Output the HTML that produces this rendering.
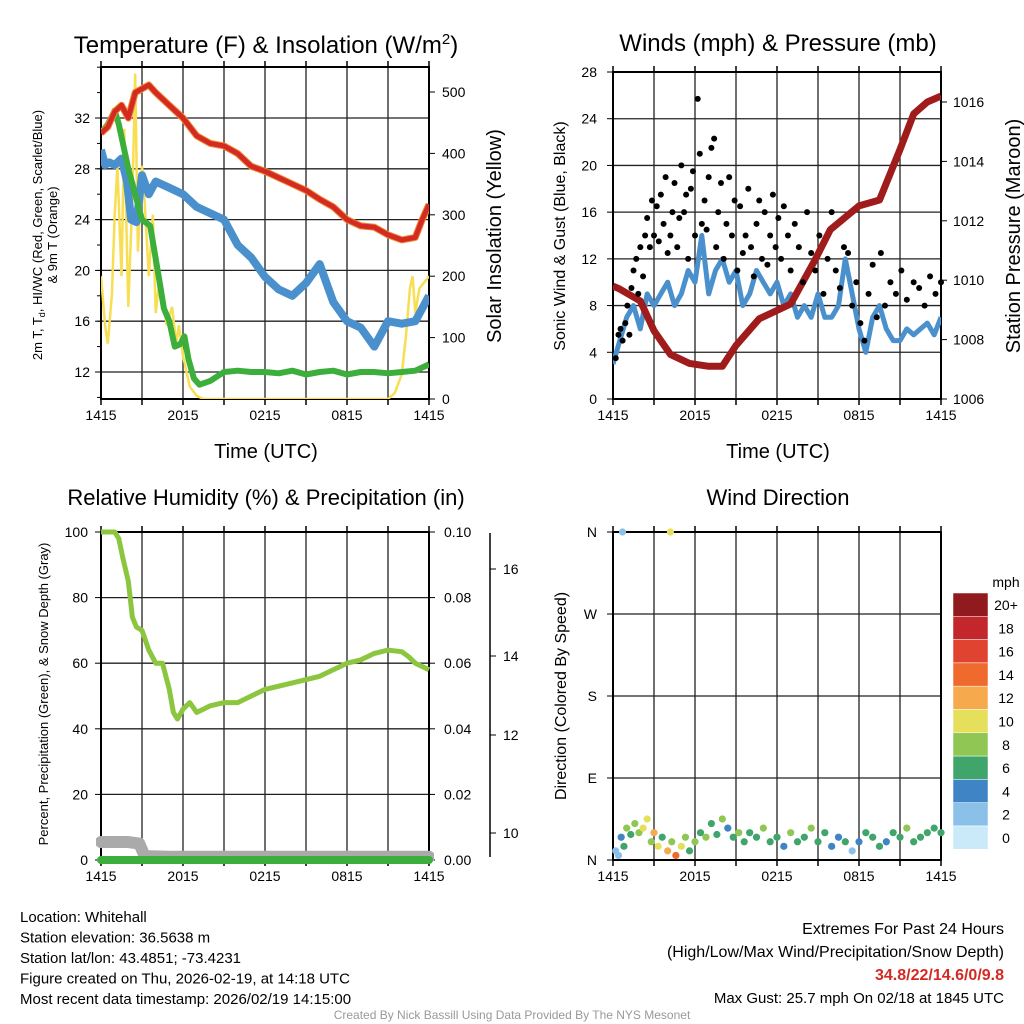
<!DOCTYPE html>
<html><head><meta charset="utf-8">
<style>
html,body{margin:0;padding:0;background:#fff;}
body{width:1024px;height:1024px;overflow:hidden;font-family:"Liberation Sans",sans-serif;}
svg{display:block}
text{font-family:"Liberation Sans",sans-serif;fill:#000}
</style></head>
<body>
<svg id="c" width="1024" height="1024" viewBox="0 0 1024 1024" xmlns="http://www.w3.org/2000/svg"></svg>
<script>
// ---- data (hours since 1415 UTC) ----
const hourTicks=["1415","2015","0215","0815","1415"];
const tRedH=[0,0.5,1,1.5,2,2.5,3,3.5,4,5,6,7,8,9,10,11,12,13,14,15,16,17,18,19,20,21,22,23,23.5,24];
const tRed=[30.8,31.3,32.5,33,32,34,34.3,34.6,34,33,32,30.6,30,29.8,29.2,28.2,27.8,27.3,26.8,26.3,25.6,25,24,23.5,23.4,22.8,22.4,22.6,24,25.2];
const tGreenH=[0,0.5,1,1.3,1.6,2,2.5,3,3.6,4.3,4.6,5,5.4,5.8,6.1,6.4,6.8,7.2,8,9,10,11,12,13,14,15,16,17,18,19,20,21,22,23,24];
const tGreen=[30.8,31.5,32.6,31.5,30,28,26,24,23.5,19,17,16,14,14.2,14.8,13,11.5,11,11.3,12,12.1,12,12,11.9,12.1,11.8,12,12.1,11.8,12,12,11.9,12,12.1,12.6];
const tBlueH=[0,0.3,0.6,1,1.5,1.9,2.2,2.6,3,3.5,4,5,6,7,8,9,10,11,12,13,14,15,16,17,18,19,20,21,22,23,23.5,24];
const tBlue=[29.5,28.3,28.5,28.3,28.8,27,24,23.8,27.5,26,27,26.5,26,25,24.5,24,22,21,19.5,18.5,18,19,20.5,17.5,16,15.5,14,16,15.8,16,17,18];
const solarH=[0,0.3,0.5,0.8,1,1.2,1.5,1.7,2,2.3,2.5,2.7,3,3.2,3.5,3.8,4,4.3,4.8,5.2,5.5,5.7,6,6.5,7,7.5,10,15,20,21,21.5,22,22.3,22.6,22.8,23,23.3,24];
const solar=[200,120,90,170,300,380,200,440,150,330,530,240,380,320,200,300,140,200,120,150,90,120,70,20,5,0,0,0,0,0,10,40,100,180,200,140,180,200];
const windH=[0,0.5,1,1.5,2,2.5,3,3.5,4,4.5,5,5.5,6,6.5,7,7.5,8,8.5,9,9.5,10,10.5,11,11.5,12,12.5,13,13.5,14,14.5,15,15.5,16,16.5,17,17.5,18,18.5,19,19.5,20,20.5,21,21.5,22,22.5,23,23.5,24];
const wind=[3,5,7,8,6,9,8,9,10,8,9,11,10,14,9,11,12,10,11,8,9,11,10,9,10,8,9,7,8,7,9,7,7,8,12,9,6,4,7,8,6,5,5,6,5.5,6,6.5,5.5,7];
const gustH=[0.2,0.4,0.55,0.7,0.9,1.05,1.2,1.35,1.5,1.7,1.85,2.0,2.2,2.35,2.5,2.7,2.85,3.0,3.2,3.35,3.5,3.7,3.85,4.0,4.2,4.35,4.5,4.7,4.85,5.0,5.2,5.35,5.5,5.7,5.85,6.0,6.2,6.35,6.5,6.7,6.85,7.0,7.2,7.4,7.55,7.7,7.9,8.1,8.3,8.5,8.7,8.9,9.1,9.3,9.5,9.7,9.9,10.1,10.3,10.5,10.7,10.9,11.1,11.3,11.5,11.7,11.9,12.1,12.3,12.5,12.8,13.0,13.3,13.6,13.9,14.2,14.5,14.8,15.1,15.4,15.7,16.0,16.3,16.6,16.9,17.2,17.5,17.8,18.1,18.4,18.7,19.0,19.3,19.6,19.9,20.3,20.7,21.1,21.5,22.0,22.4,22.8,23.2,23.6,24];
const gust=[3.5,5.5,6,5,6.5,8,5.5,9.5,11,12,9,13,10.5,14,15.5,13,17,14,16.5,13.5,17.5,15,19,12.5,14,16,18.5,13,15.5,20,16,17.5,12,18,19.5,14,25.7,21,15,17,14.5,19,21.5,22.3,13,16,18.5,12,15,19,14,17,11,16.5,12.5,14,18,13,10.5,15,17,12,16,11.5,14,17.5,13,15.5,12,16.5,14,11,15,13,10,16,12.5,11,14,9,12,16,11,9.5,13,12.5,8,10,6.5,5,9,11.5,7,12.5,8,10,9,11,8.5,10,9.5,8,10.5,9,10];
const presH=[0,0.5,2,3,4.2,5.6,7,8,9,10.7,13,14.8,15.9,18,19.5,21,22,23,24];
const pres=[1009.8,1009.7,1009.3,1008.3,1007.5,1007.2,1007.1,1007.1,1007.8,1008.7,1009.2,1010.7,1011.7,1012.5,1012.7,1014.4,1015.6,1016,1016.2];
const rhH=[0,1,1.3,1.6,2,2.3,2.6,3,3.5,4,4.5,5,5.3,5.6,6,6.5,7,7.5,8,9,10,11,12,14,16,17,18,19,20,21,22,22.5,23,24];
const rh=[100,100,98,92,85,74,71,70,64,60,60,52,45,43,46,48,45,46,47,48,48,50,52,54,56,58,60,61,63,64,63.5,62,60,58];
const snowH=[0,1,2,2.8,3.2,5,10,15,20,24];
const snow=[5.5,5.5,5.5,5,1.2,1,1,1,1,1];
const dirH=[0.2,0.4,0.6,0.8,1,1.3,1.6,1.9,2.2,2.5,2.8,3,3.3,3.6,4,4.3,4.6,5,5.3,5.6,6,6.4,6.8,7.2,7.6,8,8.4,8.8,9.2,9.6,10,10.5,11,11.5,12,12.5,13,13.5,14,14.5,15,15.5,16,16.5,17,17.5,18,18.5,19,19.5,20,20.5,21,21.5,22,22.5,23,23.5,24,0.7,4.2];
const dirV=[10,5,25,15,35,28,40,30,35,45,20,30,15,25,10,20,5,15,25,10,20,30,25,40,28,45,35,25,30,20,30,25,35,20,25,15,30,20,25,35,20,30,15,25,20,10,20,30,25,15,20,30,25,35,20,25,30,35,30,360,360];
const dirS=[2,3,5,6,8,7,9,8,10,10,8,12,10,6,12,9,14,11,8,6,8,7,9,7,6,8,5,7,8,6,7,6,8,6,7,5,8,6,7,8,6,7,5,4,6,3,5,6,7,6,5,6,7,8,6,7,6,7,6,2,10];
const cbLabels=["20+","18","16","14","12","10","8","6","4","2","0"];
const cbColors=["#901a1e","#c3262b","#e0432f","#ef6a2d","#f6aa4d","#e6df5c","#8fc654","#40a56b","#3f84c4","#8bc1e9","#cbeaf9"];

// ---- helpers ----
const NS="http://www.w3.org/2000/svg";
const svg=document.getElementById('c');
function mk(tag,attrs,parent){const e=document.createElementNS(NS,tag);for(const k in attrs)e.setAttribute(k,attrs[k]);(parent||svg).appendChild(e);return e;}
function tx(x,y,s,size,anchor,parent,extra){const e=mk('text',Object.assign({x:x,y:y,'font-size':size,'text-anchor':anchor||'middle'},extra||{}),parent);e.textContent=s;return e;}
function lin(d0,d1,p0,p1){return v=>p0+(v-d0)*(p1-p0)/(d1-d0);}
function pathFrom(xs,ys,fx,fy){return xs.map((h,i)=>(i?'L':'M')+fx(h).toFixed(1)+','+fy(ys[i]).toFixed(1)).join('');}
function frame(x0,y0,x1,y1,fx,vgrid,hgridYs,name){
  const g=mk('g',{});
  
  
  for(let h=0;h<=24;h+=3){mk('line',{x1:fx(h),x2:fx(h),y1:y0,y2:y1,stroke:'#222','stroke-width':1.3},g);
    mk('line',{x1:fx(h),x2:fx(h),y1:y1,y2:y1+6,stroke:'#000','stroke-width':1.5},g);
    mk('line',{x1:fx(h),x2:fx(h),y1:y0,y2:y0-6,stroke:'#000','stroke-width':1.5},g);}
  hgridYs.forEach(y=>mk('line',{x1:x0,x2:x1,y1:y,y2:y,stroke:'#222','stroke-width':1.3},g));
  mk('rect',{x:x0,y:y0,width:x1-x0,height:y1-y0,fill:'none',stroke:'#000','stroke-width':2},g);
  hourTicks.forEach((s,i)=>{const t=tx(fx(i*6),y1+21,s,14,'middle',g);});
  return g;
}

// ===== Panel 1: Temperature =====
{
const fx=lin(0,24,101,429), fy=lin(12,32,372,118), fs=lin(0,500,399,92);
const temps=[12,16,20,24,28,32];
const g=frame(101,67,429,399,fx,true,temps.map(fy),'temperature-panel');
temps.forEach(v=>{mk('line',{x1:95,x2:101,y1:fy(v),y2:fy(v),stroke:'#000'},g);const t=tx(90,fy(v)+5,String(v),14,'end',g);});
for(let v=10;v<=36;v+=2){mk('line',{x1:97,x2:101,y1:fy(v),y2:fy(v),stroke:'#000'},g);}
[0,100,200,300,400,500].forEach(v=>{mk('line',{x1:429,x2:435,y1:fs(v),y2:fs(v),stroke:'#000'},g);const t=tx(442,fs(v)+5,String(v),14,'start',g);});
const cl=mk('clipPath',{id:'cp1'});mk('rect',{x:101,y:67,width:328,height:332},cl);
const sl=mk('path',{d:pathFrom(solarH,solar,fx,fs),fill:'none',stroke:'#f8de52','stroke-width':2.5,'clip-path':'url(#cp1)'});

const bl=mk('path',{d:pathFrom(tBlueH,tBlue,fx,fy),fill:'none',stroke:'#4a90cc','stroke-width':8,'stroke-linejoin':'round','clip-path':'url(#cp1)'});

const gl=mk('path',{d:pathFrom(tGreenH,tGreen,fx,fy),fill:'none',stroke:'#3cae3c','stroke-width':6,'stroke-linejoin':'round','clip-path':'url(#cp1)'});

const ol=mk('path',{d:pathFrom(tRedH,tRed,fx,fy),fill:'none',stroke:'#f08a30','stroke-width':7,'stroke-linejoin':'round','clip-path':'url(#cp1)'});

const rl=mk('path',{d:pathFrom(tRedH,tRed,fx,fy),fill:'none',stroke:'#d42a24','stroke-width':5,'stroke-linejoin':'round','clip-path':'url(#cp1)'});

const ti=tx(266,53,'',24,'middle');ti.innerHTML='Temperature (F) &amp; Insolation (W/m<tspan dy="-9" font-size="15">2</tspan><tspan dy="9">)</tspan>';

const xl=tx(266,458,'Time (UTC)',20);
const yl=mk('text',{transform:'translate(42,235) rotate(-90)','font-size':13,'text-anchor':'middle'});
yl.innerHTML='2m T, T<tspan font-size="9" dy="3">d</tspan><tspan dy="-3">, HI/WC (Red, Green, Scarlet/Blue)</tspan>';

const yl2=tx(0,0,'& 9m T (Orange)',13,'middle',svg,{transform:'translate(57,235) rotate(-90)'});

const yr=tx(0,0,'Solar Insolation (Yellow)',20,'middle',svg,{transform:'translate(501,236) rotate(-90)'});

}

// ===== Panel 2: Winds =====
{
const fx=lin(0,24,613,941), fy=lin(0,28,399,72), fp=lin(1006,1016,399,102);
const ws=[0,4,8,12,16,20,24,28];
const g=frame(613,72,941,399,fx,true,ws.map(fy),'winds-panel');
ws.forEach(v=>{mk('line',{x1:607,x2:613,y1:fy(v),y2:fy(v),stroke:'#000'},g);const t=tx(597,fy(v)+5,String(v),14,'end',g);});
[1006,1008,1010,1012,1014,1016].forEach(v=>{mk('line',{x1:941,x2:947,y1:fp(v),y2:fp(v),stroke:'#000'},g);const t=tx(953,fp(v)+5,String(v),14,'start',g);});
const cl=mk('clipPath',{id:'cp2'});mk('rect',{x:613,y:72,width:328,height:327},cl);
const wl=mk('path',{d:pathFrom(windH,wind,fx,fy),fill:'none',stroke:'#4a90cc','stroke-width':5,'stroke-linejoin':'round','clip-path':'url(#cp2)'});

const pl=mk('path',{d:pathFrom(presH,pres,fx,fp),fill:'none',stroke:'#a01b1b','stroke-width':7,'stroke-linejoin':'round','clip-path':'url(#cp2)'});

gustH.forEach((h,i)=>{const d=mk('circle',{cx:fx(h),cy:fy(gust[i]),r:3,fill:'#000'});

});
const ti=tx(778,51,'Winds (mph) & Pressure (mb)',24);
const xl=tx(778,458,'Time (UTC)',20);
const yl=tx(0,0,'Sonic Wind & Gust (Blue, Black)',16,'middle',svg,{transform:'translate(565,236) rotate(-90)'});

const yr=tx(0,0,'Station Pressure (Maroon)',20,'middle',svg,{transform:'translate(1020,236) rotate(-90)'});

}

// ===== Panel 3: RH =====
{
const fx=lin(0,24,101,429), fy=lin(0,100,860,532), fpr=lin(0,0.1,860,532);
const rs=[0,20,40,60,80,100];
const g=frame(101,532,429,860,fx,true,rs.map(fy),'humidity-panel');
rs.forEach(v=>{mk('line',{x1:95,x2:101,y1:fy(v),y2:fy(v),stroke:'#000'},g);const t=tx(88,fy(v)+5,String(v),14,'end',g);});
[0,0.02,0.04,0.06,0.08,0.1].forEach(v=>{mk('line',{x1:429,x2:435,y1:fpr(v),y2:fpr(v),stroke:'#000'},g);const t=tx(444,fpr(v)+5,v.toFixed(2),14,'start',g);});
const ax3=mk('g',{});
mk('line',{x1:490,x2:490,y1:533,y2:857,stroke:'#000','stroke-width':1.5},ax3);
[[16,569],[14,656],[12,735],[10,833]].forEach(p=>{mk('line',{x1:490,x2:496,y1:p[1],y2:p[1],stroke:'#000'},ax3);tx(503,p[1]+5,String(p[0]),14,'start',ax3);});
const cl=mk('clipPath',{id:'cp3'});mk('rect',{x:96,y:527,width:338,height:340},cl);
const sn=mk('path',{d:pathFrom(snowH,snow,fx,fy),fill:'none',stroke:'#aaaaaa','stroke-width':12,'stroke-linejoin':'round','stroke-linecap':'round','clip-path':'url(#cp3)'});

const pr=mk('line',{x1:fx(0),x2:fx(24),y1:fpr(0),y2:fpr(0),stroke:'#3cae3c','stroke-width':8,'stroke-linecap':'round'});

const rl=mk('path',{d:pathFrom(rhH,rh,fx,fy),fill:'none',stroke:'#8cc63f','stroke-width':5,'stroke-linejoin':'round','clip-path':'url(#cp3)'});

const ti=tx(266,505,'Relative Humidity (%) & Precipitation (in)',22);
const yl=tx(0,0,'Percent, Precipitation (Green), & Snow Depth (Gray)',13,'middle',svg,{transform:'translate(48,694) rotate(-90)'});

}

// ===== Panel 4: Wind direction =====
{
const fx=lin(0,24,613,941), fy=lin(0,360,860,532);
const dl=[["N",0],["E",90],["S",180],["W",270],["N",360]];
const g=frame(613,532,941,860,fx,true,dl.map(d=>fy(d[1])),'wind-direction-panel');
dl.forEach(d=>{mk('line',{x1:607,x2:613,y1:fy(d[1]),y2:fy(d[1]),stroke:'#000'},g);const t=tx(597,fy(d[1])+5,d[0],14,'end',g);});
function col(s){const i=Math.min(10,Math.floor(s/2));return cbColors[10-i];}
dirH.forEach((h,i)=>{const d=mk('circle',{cx:fx(h),cy:fy(dirV[i]),r:3.6,fill:col(dirS[i])});

});
const ti=tx(778,505,'Wind Direction',22);
const yl=tx(0,0,'Direction (Colored By Speed)',16,'middle',svg,{transform:'translate(566,696) rotate(-90)'});

const cb=mk('g',{});
tx(1006,587,'mph',14,'middle',cb);
cbLabels.forEach((l,i)=>{const y=593+i*23.3;mk('rect',{x:953,y:y,width:35,height:23.3,fill:cbColors[i],stroke:'#fff','stroke-width':0.5},cb);tx(1006,y+17,l,14,'middle',cb);});
}

// ===== footer text =====
const info=["Location: Whitehall","Station elevation: 36.5638 m","Station lat/lon: 43.4851; -73.4231","Figure created on Thu, 2026-02-19, at 14:18 UTC","Most recent data timestamp: 2026/02/19 14:15:00"];
info.forEach((s,i)=>{const t=tx(20,922+i*20.5,s,15,'start');});
const e1=tx(1004,934,'Extremes For Past 24 Hours',16,'end');
const e2=tx(1004,957,'(High/Low/Max Wind/Precipitation/Snow Depth)',16,'end');
const e3=tx(1004,980,'34.8/22/14.6/0/9.8',16,'end',svg,{'font-weight':'bold',style:'fill:#d42a24'});
const e4=tx(1004,1003,'Max Gust: 25.7 mph On 02/18 at 1845 UTC',15,'end');
const cr=tx(512,1019,'Created By Nick Bassill Using Data Provided By The NYS Mesonet',12,'middle',svg,{style:'fill:#999'});
</script>
</body></html>
